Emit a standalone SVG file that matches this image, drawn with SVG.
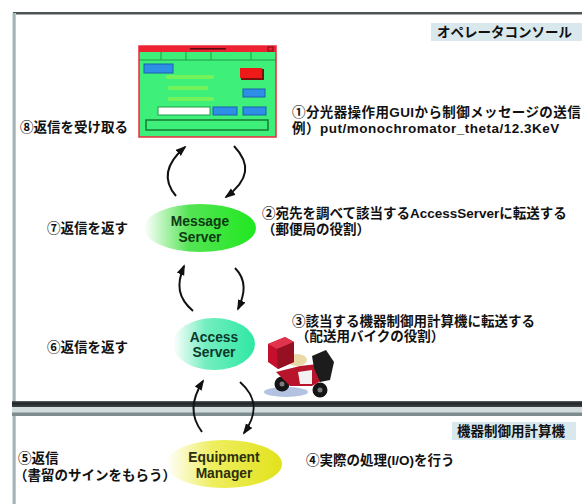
<svg xmlns="http://www.w3.org/2000/svg" width="582" height="504" viewBox="0 0 582 504">
  <defs>
    <style>
      .jp { font-family: "Liberation Sans", "Noto Sans CJK JP", sans-serif; font-weight: bold; font-size: 13.5px; fill: #111; }
      .nt { font-family: "Liberation Sans", Arial, sans-serif; font-weight: bold; font-size: 13.8px; text-anchor: middle; }
      .tag { font-family: "Noto Sans CJK JP", sans-serif; font-weight: bold; font-size: 13.5px; fill: #111; }
      .conn { fill: none; stroke: #111; stroke-width: 2; marker-end: url(#head); }
      .btn { fill: #2e8fe6; stroke: #1b5fae; stroke-width: 1; }
      .gtxt { fill: #74f25a; }
    </style>
    <marker id="head" markerUnits="userSpaceOnUse" markerWidth="11" markerHeight="9" refX="9" refY="4" orient="auto">
      <path d="M0,0 L11,4 L0,8 z" fill="#111"/>
    </marker>
    <linearGradient id="gMsg" x1="0" y1="0" x2="1" y2="0">
      <stop offset="0" stop-color="#ffffff"/>
      <stop offset="0.4" stop-color="#55e455"/>
      <stop offset="1" stop-color="#1fe81f"/>
    </linearGradient>
    <linearGradient id="gAcc" x1="0" y1="0" x2="1" y2="0">
      <stop offset="0" stop-color="#ffffff"/>
      <stop offset="0.4" stop-color="#74eec0"/>
      <stop offset="1" stop-color="#2ee8a2"/>
    </linearGradient>
    <linearGradient id="gEqp" x1="0" y1="0" x2="1" y2="0">
      <stop offset="0" stop-color="#ffffff"/>
      <stop offset="0.4" stop-color="#eeee60"/>
      <stop offset="1" stop-color="#e2e21c"/>
    </linearGradient>
    <linearGradient id="edgeV" x1="0" y1="0" x2="1" y2="0">
      <stop offset="0" stop-color="#e8eeee"/>
      <stop offset="0.5" stop-color="#8fa3a8"/>
      <stop offset="1" stop-color="#cfd9db"/>
    </linearGradient>
    <linearGradient id="edgeH" x1="0" y1="0" x2="0" y2="1">
      <stop offset="0" stop-color="#5b6365"/>
      <stop offset="0.35" stop-color="#1e2324"/>
      <stop offset="1" stop-color="#3d4648"/>
    </linearGradient>
  </defs>

  <rect width="582" height="504" fill="#ffffff"/>

  <!-- operator console panel frame -->
  <rect x="13" y="12" width="569" height="2.5" fill="#4d5456"/>
  <rect x="12" y="13" width="4" height="390" fill="url(#edgeV)"/>
  <rect x="12" y="401" width="570" height="6" fill="url(#edgeH)"/>
  <rect x="12" y="407" width="570" height="6" fill="#d3dcdc"/>
  <rect x="12" y="412.5" width="570" height="3.5" fill="#7d8d8f"/>
  <!-- equipment computer panel frame -->
  <rect x="12" y="416" width="4" height="88" fill="url(#edgeV)"/>

  <!-- panel tags -->
  <rect x="431" y="23" width="151" height="18" fill="#d9e8ec"/>
  <text class="tag" x="437" y="37">オペレータコンソール</text>
  <rect x="452" y="422" width="124" height="18" fill="#d9e8ec"/>
  <text class="tag" x="457" y="436" font-size="13">機器制御用計算機</text>

  <!-- monochromator control GUI window -->
  <g id="gui">
    <rect x="139" y="46" width="137" height="91" fill="#3ef07a" stroke="#ec2a3c" stroke-width="1.5"/>
    <rect x="139" y="46" width="137" height="6" fill="#ee2233"/>
    <rect x="190" y="48" width="36" height="1.6" fill="#5a0a10"/>
    <rect x="268" y="47" width="5" height="4" fill="none" stroke="#5a0a10" stroke-width="0.8"/>
    <line x1="139" y1="60" x2="276" y2="60" stroke="#1f9c48" stroke-width="1"/>
    <g stroke="#1f9c48" stroke-width="1">
      <line x1="161" y1="52" x2="161" y2="60"/>
      <line x1="186" y1="52" x2="186" y2="60"/>
      <line x1="211" y1="52" x2="211" y2="60"/>
      <line x1="251" y1="52" x2="251" y2="60"/>
    </g>
    <rect class="btn" x="144" y="64" width="29" height="9"/>
    <rect x="241" y="69" width="23" height="11" fill="#7a1010"/>
    <rect x="240" y="68" width="22" height="10" fill="#ee1a1a"/>
    <rect class="gtxt" x="166" y="75" width="48" height="4" rx="1"/>
    <rect class="gtxt" x="168" y="86" width="40" height="4" rx="1"/>
    <rect class="gtxt" x="168" y="97" width="46" height="4" rx="1"/>
    <rect class="btn" x="243" y="89" width="22" height="8"/>
    <rect x="158" y="107" width="52" height="8" fill="#ffffff" stroke="#1f9c48" stroke-width="1"/>
    <rect class="btn" x="213" y="107" width="24" height="8"/>
    <rect class="btn" x="243" y="107" width="23" height="8"/>
    <rect x="146" y="120" width="122" height="10" fill="none" stroke="#177a34" stroke-width="1.5"/>
  </g>

  <!-- servers -->
  <g id="message-server">
    <ellipse cx="200" cy="228" rx="56" ry="24" fill="url(#gMsg)"/>
    <text class="nt" x="200" y="226" fill="#0d3a12">Message</text>
    <text class="nt" x="200" y="242" fill="#0d3a12">Server</text>
  </g>
  <g id="access-server">
    <ellipse cx="214" cy="344" rx="41" ry="26" fill="url(#gAcc)"/>
    <text class="nt" x="214" y="342" fill="#0c3a2c">Access</text>
    <text class="nt" x="214" y="357" fill="#0c3a2c">Server</text>
  </g>
  <g id="equipment-manager">
    <ellipse cx="224" cy="464" rx="58" ry="24" fill="url(#gEqp)"/>
    <text class="nt" x="224" y="462" fill="#2e2e08">Equipment</text>
    <text class="nt" x="224" y="478" fill="#2e2e08">Manager</text>
  </g>

  <!-- message flow arrows -->
  <g id="connectors">
    <path class="conn" d="M176,196 C164,182 163,166 185,147"/>
    <path class="conn" d="M234,146 C251,164 249,180 226,197"/>
    <path class="conn" d="M193,311 C178,298 176,285 184,266"/>
    <path class="conn" d="M235,268 C247,280 245,294 238,309"/>
    <path class="conn" d="M202,432 C190,416 191,400 203,381"/>
    <path class="conn" d="M240,382 C256,396 259,412 244,433"/>
  </g>

  <!-- delivery motorbike -->
  <g id="motorbike">
    <ellipse cx="286" cy="392" rx="22" ry="5" fill="#9fb3d8" opacity="0.8"/>
    <circle cx="282" cy="384" r="7.5" fill="#151515"/>
    <circle cx="282" cy="384" r="2.5" fill="#7a7a7a"/>
    <circle cx="320" cy="390" r="7.5" fill="#151515"/>
    <circle cx="320" cy="390" r="2.5" fill="#7a7a7a"/>
    <path d="M276,372 L300,366 L318,364 L326,378 L312,386 L290,386 Z" fill="#b8142c"/>
    <path d="M298,372 L312,370 L312,384 L300,384 Z" fill="#f2f2f2"/>
    <path d="M312,356 L326,350 L334,362 L330,380 L320,382 L314,368 Z" fill="#1c1c1c"/>
    <ellipse cx="297" cy="360" rx="10" ry="6" fill="#e9d9a6"/>
    <path d="M268,344 L285,337 L294,342 L294,362 L278,369 L268,362 Z" fill="#c4102c"/>
    <path d="M268,344 L285,337 L294,342 L277,349 Z" fill="#e0344c"/>
    <path d="M277,349 L294,342 L294,362 L278,369 Z" fill="#961024"/>
  </g>

  <!-- step descriptions -->
  <g id="labels">
    <text class="jp" x="20" y="132">⑧返信を受け取る</text>
    <text class="jp" x="292" y="117" letter-spacing="0.4">①分光器操作用GUIから制御メッセージの送信</text>
    <text class="jp" x="292" y="133" letter-spacing="0.5">例）put/monochromator_theta/12.3KeV</text>
    <text class="jp" x="47" y="233">⑦返信を返す</text>
    <text class="jp" x="262" y="218">②宛先を調べて該当するAccessServerに転送する</text>
    <text class="jp" x="262" y="234">（郵便局の役割）</text>
    <text class="jp" x="47" y="352">⑥返信を返す</text>
    <text class="jp" x="292" y="326">③該当する機器制御用計算機に転送する</text>
    <text class="jp" x="296" y="341">（配送用バイクの役割）</text>
    <text class="jp" x="18" y="463">⑤返信</text>
    <text class="jp" x="14" y="480">（書留のサインをもらう）</text>
    <text class="jp" x="306" y="465">④実際の処理(I/O)を行う</text>
  </g>
</svg>
